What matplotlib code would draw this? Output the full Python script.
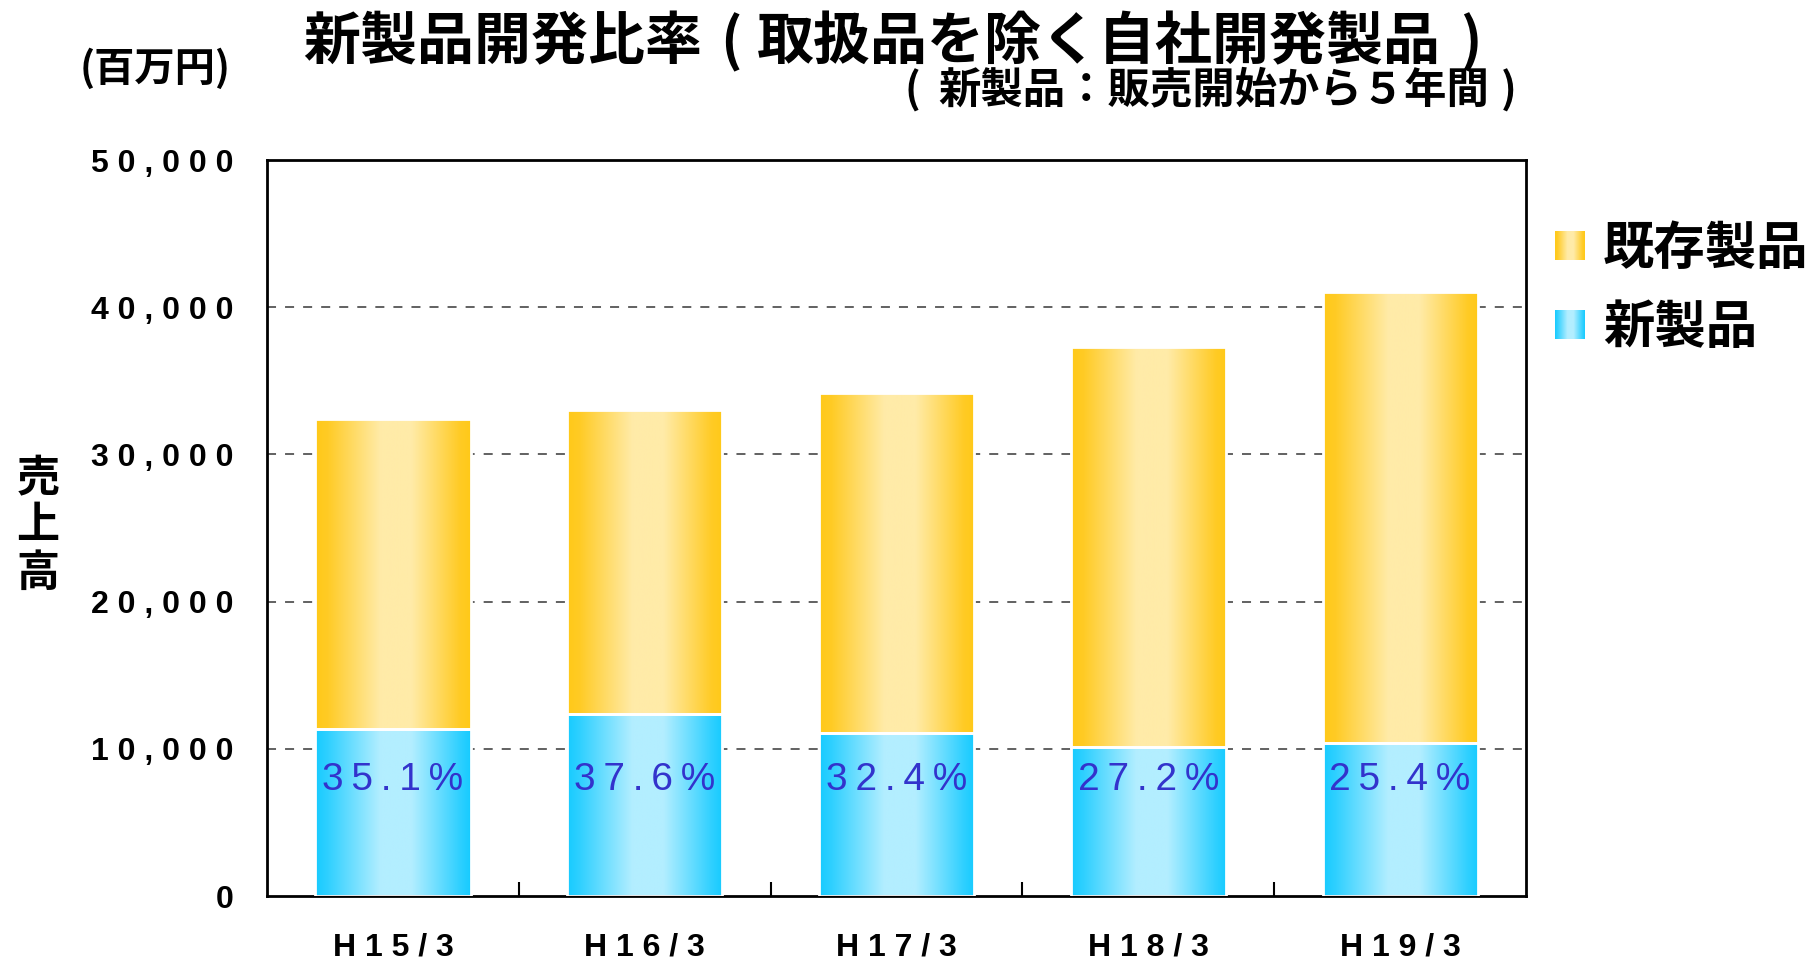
import numpy as np
import matplotlib
matplotlib.use("Agg")
import matplotlib.pyplot as plt
from matplotlib.colors import LinearSegmentedColormap
from matplotlib.patches import Rectangle

# data (百万円)
years = ["H15/3", "H16/3", "H17/3", "H18/3", "H19/3"]
new_products = [11380, 12400, 11070, 10140, 10430]
existing_products = [21020, 20600, 23080, 27160, 30620]
new_ratio = ["35.1%", "37.6%", "32.4%", "27.2%", "25.4%"]
yticks = [0, 10000, 20000, 30000, 40000, 50000]

CJK = ["Noto Sans CJK JP", "DejaVu Sans"]
LAT = ["Liberation Sans", "DejaVu Sans"]

gold = LinearSegmentedColormap.from_list(
    "gold", [(0, "#FFC918"), (0.08, "#FFCB25"), (0.42, "#FFEBA8"),
             (0.62, "#FFEBA8"), (0.93, "#FFCB25"), (1, "#FFC918")])
cyan = LinearSegmentedColormap.from_list(
    "cyan", [(0, "#16CBFF"), (0.08, "#2FD0FF"), (0.42, "#B3EEFF"),
             (0.62, "#B3EEFF"), (0.93, "#2FD0FF"), (1, "#16CBFF")])
grad = np.linspace(0, 1, 256).reshape(1, -1)


def spaced(s, sep=" "):
    return sep.join(s)


fig = plt.figure(figsize=(18.13, 9.64), dpi=100)
ax = fig.add_axes([0.1473, 0.0705, 0.6944, 0.7635])

x = np.arange(len(years))
w = 0.616


def grad_bar(xc, bottom, height, cmap):
    r = Rectangle((xc - w / 2, bottom), w, height, facecolor="none",
                  edgecolor="white", linewidth=2, zorder=3)
    ax.add_patch(r)
    im = ax.imshow(grad, cmap=cmap, aspect="auto", zorder=2,
                   extent=(xc - w / 2, xc + w / 2, bottom, bottom + height))
    im.set_clip_path(r)


for i in range(len(years)):
    grad_bar(x[i], 0, new_products[i], cyan)
    grad_bar(x[i], new_products[i], existing_products[i], gold)
    ax.text(x[i], 7850, spaced(new_ratio[i], "\u2009"), ha="center", va="center",
            fontsize=28, color="#3333CC", family=LAT, zorder=4)

ax.set_xlim(-0.5, len(years) - 0.5)
ax.set_ylim(0, 50000)

ax.set_yticks(yticks)
ax.set_yticklabels([spaced(f"{v:,}") for v in yticks], family=LAT,
                   fontsize=23, fontweight="bold")
ax.tick_params(axis="y", length=0, pad=24)

ax.set_xticks(x[:-1] + 0.5)
ax.set_xticklabels([])
ax.tick_params(axis="x", which="major", direction="in", length=10, width=1.5)
ax.set_xticks(x, minor=True)
ax.set_xticklabels([spaced(y) for y in years], minor=True, family=LAT,
                   fontsize=23, fontweight="bold")
ax.tick_params(axis="x", which="minor", length=0, pad=26)

for yv in yticks[1:-1]:
    ax.axhline(yv, color="#555555", linestyle=(0, (5, 5)), linewidth=1.3, zorder=1)

for sp in ax.spines.values():
    sp.set_linewidth(2)
    sp.set_color("black")

# title, drawn in pieces so the brackets sit like the original
ty = 0.956
fig.text(0.1671, ty, "新製品開発比率", family=CJK, fontsize=41,
         fontweight="bold", ha="left", va="center")
fig.text(0.4031, ty, "(", family=CJK, fontsize=41, fontweight="bold",
         ha="center", va="center")
fig.text(0.4177, ty, "取扱品を除く自社開発製品", family=CJK, fontsize=41,
         fontweight="bold", ha="left", va="center")
fig.text(0.8112, ty, ")", family=CJK, fontsize=41, fontweight="bold",
         ha="center", va="center")

sy = 0.906
fig.text(0.5035, sy, "(", family=CJK, fontsize=30, fontweight="bold",
         ha="center", va="center")
fig.text(0.5178, sy, "新製品：販売開始から５年間", family=CJK, fontsize=30.5,
         fontweight="bold", ha="left", va="center")
fig.text(0.8323, sy, ")", family=CJK, fontsize=30, fontweight="bold",
         ha="center", va="center")

fig.text(0.044, 0.928, "(百万円)", family=CJK, fontsize=29,
         fontweight="bold", ha="left", va="center")
fig.text(0.021, 0.455, "売\n上\n高", family=CJK, fontsize=31,
         fontweight="bold", ha="center", va="center", linespacing=1.1)

# legend
leg_items = [("既存製品", gold, 0.745), ("新製品", cyan, 0.663)]
for label, cmap, yc in leg_items:
    lax = fig.add_axes([0.8577, yc - 0.015, 0.016, 0.030])
    lax.imshow(grad, cmap=cmap, aspect="auto")
    lax.axis("off")
    fig.text(0.884, yc - 0.003, label, family=CJK, fontsize=37, fontweight="bold",
             ha="left", va="center")

fig.savefig("out.png", dpi=100)
